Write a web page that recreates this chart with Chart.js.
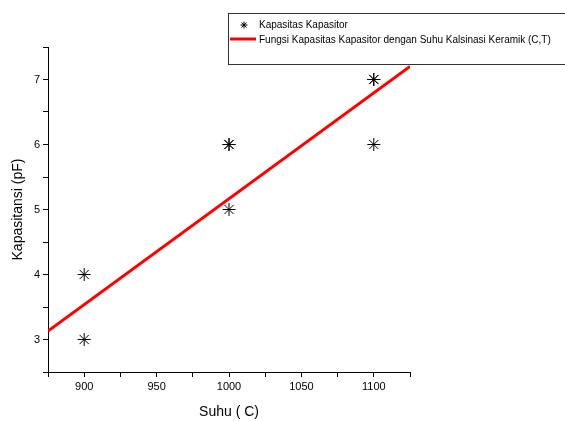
<!DOCTYPE html>
<html>
<head>
<meta charset="utf-8">
<script src="https://cdn.jsdelivr.net/npm/chart.js@4"></script>
<style>
  html, body { margin: 0; padding: 0; background: #fff; }
  #wrap { width: 565px; height: 421px; position: relative; }
</style>
</head>
<body>
<div id="wrap"><canvas id="chart" width="565" height="421"></canvas></div>
<script>
// datos
const suhu = [900, 900, 1000, 1000, 1000, 1100, 1100, 1100];
const kapasitansi = [3, 4, 5, 6, 6, 6, 7, 7];
// recta de ajuste (extremos)
const fitSuhu = [875, 1125];
const fitKapasitansi = [3.13, 7.2];
const xTicks = [900, 950, 1000, 1050, 1100];
const yTicks = [3, 4, 5, 6, 7];

const labelPuntos = 'Kapasitas Kapasitor';
const labelFit = 'Fungsi Kapasitas Kapasitor dengan Suhu Kalsinasi Keramik (C,T)';

const FONT = "'Liberation Sans', Arial, sans-serif";

// leyenda con caja, dibujada a mano sobre el canvas
const boxLegend = {
    id: 'boxLegend',
    afterDraw(chart) {
        const ctx = chart.ctx;
        ctx.save();
        ctx.fillStyle = '#fff';
        ctx.fillRect(228.5, 13.5, 400, 51);
        ctx.strokeStyle = '#333';
        ctx.lineWidth = 1;
        ctx.strokeRect(228.5, 13.5, 400, 51);

        ctx.font = '10px ' + FONT;
        ctx.fillStyle = '#000';
        ctx.textBaseline = 'middle';
        ctx.textAlign = 'left';

        // simbolo asterisco
        const cx = 244, cy = 25, r = 3.5;
        ctx.strokeStyle = '#000';
        ctx.beginPath();
        for (let k = 0; k < 4; k++) {
            const a = k * Math.PI / 4;
            ctx.moveTo(cx - r * Math.cos(a), cy - r * Math.sin(a));
            ctx.lineTo(cx + r * Math.cos(a), cy + r * Math.sin(a));
        }
        ctx.stroke();
        ctx.fillText(chart.data.datasets[0].label, 259, 25);

        // linea roja
        ctx.strokeStyle = '#ff0000';
        ctx.lineWidth = 3;
        ctx.beginPath();
        ctx.moveTo(230, 39);
        ctx.lineTo(256, 39);
        ctx.stroke();
        ctx.fillText(chart.data.datasets[1].label, 259, 40);
        ctx.restore();
    }
};

const ctx = document.getElementById('chart').getContext('2d');
new Chart(ctx, {
    type: 'scatter',
    data: {
        datasets: [
            {
                label: labelPuntos,
                data: suhu.map((x, i) => ({ x: x, y: kapasitansi[i] })),
                pointStyle: 'star',
                pointRadius: 6.5,
                borderColor: '#000',
                backgroundColor: '#000',
                borderWidth: 1,
                showLine: false
            },
            {
                label: labelFit,
                data: fitSuhu.map((x, i) => ({ x: x, y: fitKapasitansi[i] })),
                showLine: true,
                borderColor: '#ff0000',
                borderWidth: 3,
                pointRadius: 0
            }
        ]
    },
    options: {
        responsive: false,
        animation: false,
        layout: { padding: { left: 0, right: 155, top: 47, bottom: 0 } },
        plugins: {
            legend: { display: false },
            tooltip: { enabled: false }
        },
        scales: {
            x: {
                type: 'linear',
                min: 875,
                max: 1125,
                afterFit: (axis) => { axis.height = 49; },
                afterBuildTicks: (axis) => {
                    const t = [];
                    for (let v = 875; v <= 1125; v += 25) t.push({ value: v });
                    axis.ticks = t;
                },
                ticks: {
                    color: '#000',
                    font: { family: FONT, size: 11 },
                    padding: 3,
                    maxRotation: 0,
                    autoSkip: false,
                    callback: (v) => xTicks.includes(v) ? String(v) : ''
                },
                grid: { drawOnChartArea: false, drawTicks: true, tickLength: 5, color: '#000' },
                border: { display: true, color: '#000', width: 1 },
                title: {
                    display: true,
                    text: 'Suhu ( C)',
                    color: '#000',
                    font: { family: FONT, size: 14 },
                    padding: { top: 8, bottom: 0 }
                }
            },
            y: {
                type: 'linear',
                min: 2.5,
                max: 7.5,
                afterFit: (axis) => { axis.width = 48; },
                afterBuildTicks: (axis) => {
                    const t = [];
                    for (let v = 2.5; v <= 7.5; v += 0.5) t.push({ value: v });
                    axis.ticks = t;
                },
                ticks: {
                    color: '#000',
                    font: { family: FONT, size: 11 },
                    padding: 3,
                    autoSkip: false,
                    callback: (v) => yTicks.includes(v) ? String(v) : ''
                },
                grid: { drawOnChartArea: false, drawTicks: true, tickLength: 5, color: '#000' },
                border: { display: true, color: '#000', width: 1 },
                title: {
                    display: true,
                    text: 'Kapasitansi (pF)',
                    color: '#000',
                    font: { family: FONT, size: 14 },
                    padding: { top: 10, bottom: 0 }
                }
            }
        }
    },
    plugins: [boxLegend]
});
</script>
</body>
</html>
